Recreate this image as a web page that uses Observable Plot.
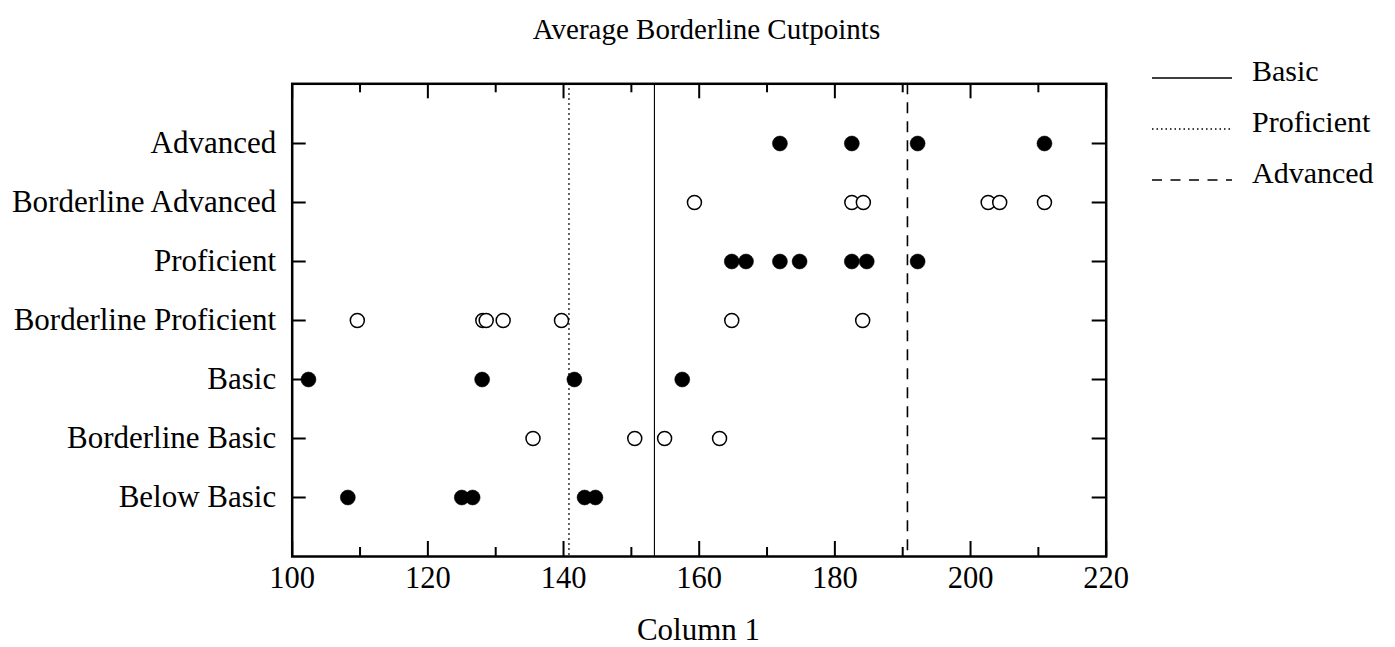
<!DOCTYPE html>
<html>
<head>
<meta charset="utf-8">
<script src="https://cdn.jsdelivr.net/npm/d3@7"></script>
<script src="https://cdn.jsdelivr.net/npm/@observablehq/plot@0.6"></script>
<style>
  html, body { margin: 0; padding: 0; background: white; }
  body { width: 1395px; height: 647px; position: relative; overflow: hidden; font-family: "Liberation Serif", "Times New Roman", serif; color: black; }
  #title { position: absolute; top: 13px; left: 9px; width: 1395px; text-align: center; font-size: 29px; }
  #chart { position: absolute; top: 50px; left: 0; }
  #xlabel { position: absolute; top: 612px; left: 0; width: 1397px; text-align: center; font-size: 31px; }
  #legend { position: absolute; top: 56px; left: 1150px; }
  .lrow { position: absolute; left: 0; height: 40px; white-space: nowrap; font-size: 30px; }
  .lrow svg { position: absolute; left: 0; top: 0; }
  .lrow span { position: absolute; left: 102px; top: 0; line-height: 1; }
</style>
</head>
<body>
<div id="title">Average Borderline Cutpoints</div>
<div id="chart"></div>
<div id="xlabel">Column 1</div>
<div id="legend"></div>
<script>
// ---- data ----
const categories = ["Advanced", "Borderline Advanced", "Proficient", "Borderline Proficient", "Basic", "Borderline Basic", "Below Basic"];
const advanced = [171.9, 182.5, 192.2, 210.9];
const borderlineAdvanced = [159.3, 182.5, 184.2, 202.6, 204.3, 210.9];
const proficient = [164.8, 166.9, 171.9, 174.8, 182.5, 184.7, 192.2];
const borderlineProficient = [109.6, 128.1, 128.6, 131.1, 139.7, 164.8, 184.1];
const basic = [102.4, 128.0, 141.6, 157.5];
const borderlineBasic = [135.5, 150.5, 154.9, 163.0];
const belowBasic = [108.2, 125.0, 126.6, 143.1, 144.7];
const cutNames = ["Basic", "Proficient", "Advanced"];
const cutValues = [153.4, 140.8, 190.7];
const majorTicks = [100, 120, 140, 160, 180, 200, 220];
const minorTicks = [110, 130, 150, 170, 190, 210];
const xLabel = "Column 1";

// ---- build tables ----
const series = [
  ["Advanced", advanced, true],
  ["Borderline Advanced", borderlineAdvanced, false],
  ["Proficient", proficient, true],
  ["Borderline Proficient", borderlineProficient, false],
  ["Basic", basic, true],
  ["Borderline Basic", borderlineBasic, false],
  ["Below Basic", belowBasic, true]
];
const points = series.flatMap(([cat, vals, filled]) => vals.map(v => ({category: cat, value: v, filled})));
const cuts = cutNames.map((name, i) => ({name, value: cutValues[i]}));
const dashes = {Basic: null, Proficient: "1.5,3.5", Advanced: "11,8"};

// ---- layout ----
const W = 1395, H = 550;
const mL = 291.7, mR = 289.3, mT = 33.3, mB = 44;
const innerW = W - mL - mR, innerH = H - mT - mB;
const majorLen = 15, minorLen = 9, yTickLen = 14;

const chart = Plot.plot({
  width: W,
  height: H,
  marginLeft: mL,
  marginRight: mR,
  marginTop: mT,
  marginBottom: mB,
  style: {fontFamily: "Liberation Serif", fontSize: "31px", color: "black", background: "white"},
  x: {domain: [100, 220]},
  y: {type: "point", domain: categories, padding: 1},
  marks: [
    ...cuts.map(c => Plot.ruleX([c], {x: "value", stroke: "black", strokeWidth: c.name === "Basic" ? 1.1 : 1.6, strokeDasharray: dashes[c.name]})),
    Plot.dot(points.filter(d => d.filled), {x: "value", y: "category", r: 7.5, fill: "black", stroke: "black", strokeWidth: 0.5}),
    Plot.dot(points.filter(d => !d.filled), {x: "value", y: "category", r: 7, fill: "white", stroke: "black", strokeWidth: 1.5}),
    Plot.frame({stroke: "black", strokeWidth: 2.5}),
    Plot.ruleX(majorTicks, {stroke: "black", strokeWidth: 2, insetBottom: innerH - majorLen}),
    Plot.ruleX(majorTicks, {stroke: "black", strokeWidth: 2, insetTop: innerH - majorLen}),
    Plot.ruleX(minorTicks, {stroke: "black", strokeWidth: 2, insetBottom: innerH - minorLen}),
    Plot.ruleX(minorTicks, {stroke: "black", strokeWidth: 2, insetTop: innerH - minorLen}),
    Plot.ruleY(categories, {y: d => d, stroke: "black", strokeWidth: 2, insetRight: innerW - yTickLen}),
    Plot.ruleY(categories, {y: d => d, stroke: "black", strokeWidth: 2, insetLeft: innerW - yTickLen}),
    Plot.axisX({ticks: majorTicks, tickSize: 0, tickPadding: 10, fontSize: 30.5, label: null, tickFormat: d => String(d)}),
    Plot.axisY({tickSize: 0, tickPadding: 16, fontSize: 31, label: null})
  ]
});
document.getElementById("chart").appendChild(chart);
document.getElementById("xlabel").textContent = xLabel;

// ---- legend ----
const legend = document.getElementById("legend");
cuts.forEach((c, i) => {
  const row = document.createElement("div");
  row.className = "lrow";
  row.style.top = (i * 51) + "px";
  const svg = d3.create("svg").attr("width", 82).attr("height", 40);
  svg.append("line")
    .attr("x1", 2).attr("x2", 82).attr("y1", 22).attr("y2", 22)
    .attr("stroke", "black").attr("stroke-width", c.name === "Basic" ? 1.3 : 1.4)
    .attr("stroke-dasharray", c.name === "Basic" ? null : (c.name === "Proficient" ? "1.5,3" : "10,8.5"));
  row.appendChild(svg.node());
  const span = document.createElement("span");
  span.textContent = c.name;
  row.appendChild(span);
  legend.appendChild(row);
});
</script>
</body>
</html>
